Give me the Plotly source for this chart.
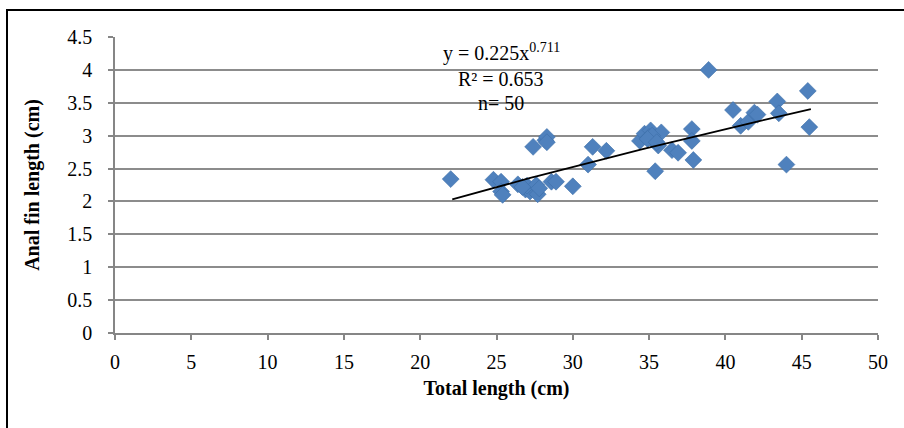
import plotly.graph_objects as go
import numpy as np

total_length = [22.0, 24.8, 25.3, 25.3, 25.4, 26.4, 26.9, 27.2, 27.0, 27.6,
                27.7, 27.4, 28.2, 28.3, 28.6, 28.9, 30.0, 31.0, 31.3, 32.2,
                34.4, 34.7, 35.1, 35.0, 35.3, 35.6, 35.8, 35.4, 36.5, 36.9,
                37.8, 37.8, 37.9, 38.9, 40.5, 41.0, 41.5, 41.9, 43.4, 43.5,
                44.0, 45.4, 45.5, 35.2, 34.9, 27.8, 26.7, 28.3, 42.1, 35.5]
anal_fin = [2.34, 2.33, 2.30, 2.15, 2.10, 2.26, 2.18, 2.15, 2.24, 2.25,
            2.11, 2.83, 2.93, 2.98, 2.30, 2.30, 2.23, 2.56, 2.83, 2.77,
            2.92, 3.03, 3.08, 2.98, 2.93, 2.85, 3.05, 2.46, 2.78, 2.74,
            3.10, 2.92, 2.63, 4.00, 3.39, 3.15, 3.21, 3.35, 3.52, 3.34,
            2.56, 3.68, 3.13, 3.00, 2.95, 2.20, 2.22, 2.90, 3.32, 2.90]

fit_a, fit_b = 0.225, 0.711
x_ticks = [0, 5, 10, 15, 20, 25, 30, 35, 40, 45, 50]
y_ticks = [0, 0.5, 1, 1.5, 2, 2.5, 3, 3.5, 4, 4.5]
y_labels = ["0", "0.5", "1", "1.5", "2", "2.5", "3", "3.5", "4", "4.5"]

fx = np.linspace(22.1, 45.6, 60)
fy = fit_a * fx ** fit_b

fig = go.Figure()
fig.add_trace(go.Scatter(
    x=total_length, y=anal_fin, mode="markers",
    marker=dict(symbol="diamond", size=13, color="#4F81BD",
                line=dict(color="#3D6EA8", width=0.6)),
    showlegend=False, cliponaxis=False))
fig.add_trace(go.Scatter(
    x=fx, y=fy, mode="lines", line=dict(color="black", width=1.8),
    showlegend=False))

font_family = "Liberation Serif"
fs = 20
fig.update_layout(
    width=904, height=428,
    margin=dict(l=115, r=26, t=37, b=95),
    paper_bgcolor="white", plot_bgcolor="white",
    font=dict(family=font_family, size=fs, color="black"),
    xaxis=dict(range=[0, 50], tickvals=x_ticks, ticktext=[str(v) for v in x_ticks],
               showgrid=False, zeroline=False, showline=True,
               linecolor="#868686", linewidth=1.5, ticks="outside",
               tickcolor="#868686", ticklen=5, tickwidth=1.5,
               ticklabelstandoff=5,
               tickfont=dict(size=fs, family=font_family),
               title=dict(text="<b>Total length (cm)</b>", standoff=9,
                          font=dict(size=fs, family=font_family))),
    yaxis=dict(range=[0, 4.5], tickvals=y_ticks, ticktext=y_labels,
               showgrid=True, gridcolor="#8C8C8C", gridwidth=1.5,
               zeroline=False, showline=True,
               linecolor="#868686", linewidth=1.5, ticks="outside",
               tickcolor="#868686", ticklen=5, tickwidth=1.5,
               ticklabelstandoff=12,
               tickfont=dict(size=fs, family=font_family),
               title=dict(text="<b>Anal fin length (cm)</b>", standoff=22,
                          font=dict(size=fs, family=font_family))),
    annotations=[
        dict(x=0.506, y=1.0, xref="paper", yref="paper", xanchor="center", yanchor="middle",
             yshift=-15, showarrow=False,
             text="y = 0.225x<sup>0.711</sup>", font=dict(size=fs, family=font_family)),
        dict(x=0.506, y=1.0, xref="paper", yref="paper", xanchor="center", yanchor="middle",
             yshift=-42, showarrow=False,
             text="R² = 0.653", font=dict(size=fs, family=font_family)),
        dict(x=0.506, y=1.0, xref="paper", yref="paper", xanchor="center", yanchor="middle",
             yshift=-66, showarrow=False,
             text="n= 50", font=dict(size=fs, family=font_family)),
    ],
    shapes=[
        dict(type="rect", xref="paper", yref="paper",
             x0=(7 - 115) / 763, x1=(915 - 115) / 763,
             y0=(333 - 440) / 296, y1=(333 - 10) / 296,
             line=dict(color="black", width=2), layer="above"),
    ],
)

fig.write_html("out.html")
